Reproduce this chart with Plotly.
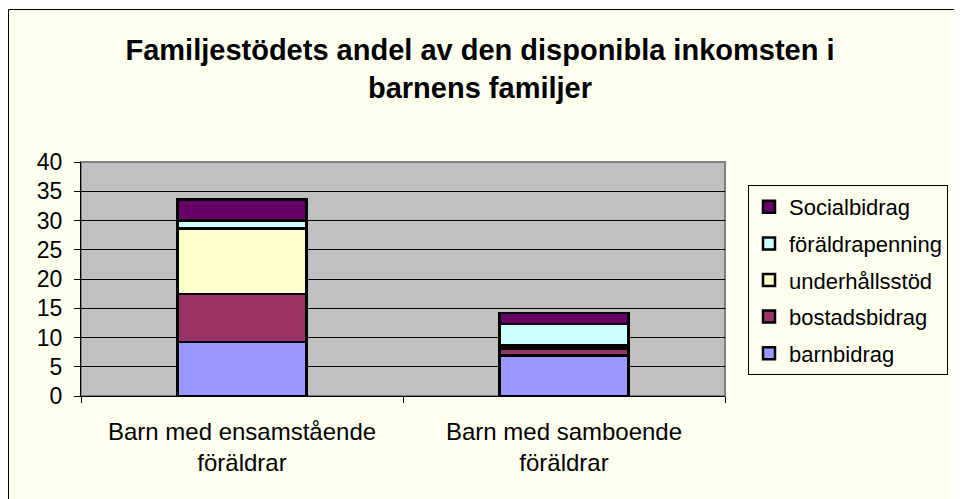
import plotly.graph_objects as go

categories = ["Barn med ensamstående<br>föräldrar", "Barn med samboende<br>föräldrar"]
series_names = ["barnbidrag", "bostadsbidrag", "underhållsstöd", "föräldrapenning", "Socialbidrag"]
barnbidrag = [9.2, 6.9]
bostadsbidrag = [8.2, 1.2]
underhallsstod = [11.2, 0.5]
foraldrapenning = [1.4, 3.7]
socialbidrag = [3.6, 1.9]
colors = ["#9999FF", "#993366", "#FFFFCC", "#CCFFFF", "#660066"]
y_ticks = [0, 5, 10, 15, 20, 25, 30, 35, 40]

values = [barnbidrag, bostadsbidrag, underhallsstod, foraldrapenning, socialbidrag]
FONT = "Liberation Sans, Arial, sans-serif"
BG = "#FFFFF0"

# page body has an 8px margin; figure starts at (8, 8) on screen
OX, OY = 8, 8
W, H = 962 - OX, 499 - OY
L = 81 - OX
T = 162 - OY
R = W - (725 - OX)
B = H - (396 - OY)
pw = W - L - R
ph = H - T - B

fig = go.Figure()
n = len(series_names)
for i, (name, vals, col) in enumerate(zip(series_names, values, colors)):
    fig.add_trace(go.Bar(
        x=categories, y=vals, name=name, legendgroup=name, legendrank=n - i,
        marker=dict(color=col, line=dict(color="black", width=2.5)),
    ))

fig.update_layout(
    width=W, height=H,
    margin=dict(l=L, r=R, t=T, b=B, pad=0),
    barmode="stack", bargap=0.6,
    paper_bgcolor=BG, plot_bgcolor="#C0C0C0",
    font=dict(family=FONT, color="black", size=22),
    title=dict(
        text="<b>Familjestödets andel av den disponibla inkomsten i<br>barnens familjer</b>",
        x=(480 - OX) / W, xref="container", xanchor="center",
        y=1 - 52 / H, yref="container", yanchor="top",
        font=dict(family=FONT, size=29, color="black"),
    ),
    showlegend=True,
    legend=dict(
        x=(748 - 81) / pw, y=(396 - 185) / ph, xanchor="left", yanchor="top",
        bgcolor=BG, bordercolor="black", borderwidth=1,
        traceorder="grouped", tracegroupgap=5, itemwidth=30,
        font=dict(family=FONT, size=22, color="black"),
    ),
    xaxis=dict(
        showline=True, linecolor="black", linewidth=1,
        ticks="outside", tickson="boundaries", ticklen=6, tickcolor="black",
        tickfont=dict(family=FONT, size=24, color="black"),
        ticklabelstandoff=14,
        showgrid=False,
    ),
    yaxis=dict(
        range=[0, 40], tickvals=y_ticks,
        showline=True, linecolor="black", linewidth=1,
        ticks="outside", ticklen=6, tickcolor="black",
        tickfont=dict(family=FONT, size=23, color="black"),
        ticklabelstandoff=7,
        showgrid=True, gridcolor="black", gridwidth=1,
        zeroline=False,
    ),
    shapes=[
        dict(type="rect", xref="paper", yref="paper", x0=0, x1=1, y0=0, y1=1,
             line=dict(color="#808080", width=2), layer="below"),
        dict(type="rect", xref="paper", yref="paper",
             x0=(0.5 - L) / pw, x1=(W + 20 - L) / pw,
             y0=-(B + 20) / ph, y1=(ph + T - 1.5) / ph,
             line=dict(color="black", width=1), fillcolor="rgba(0,0,0,0)"),
    ],
)

fig.write_html("out.html")
